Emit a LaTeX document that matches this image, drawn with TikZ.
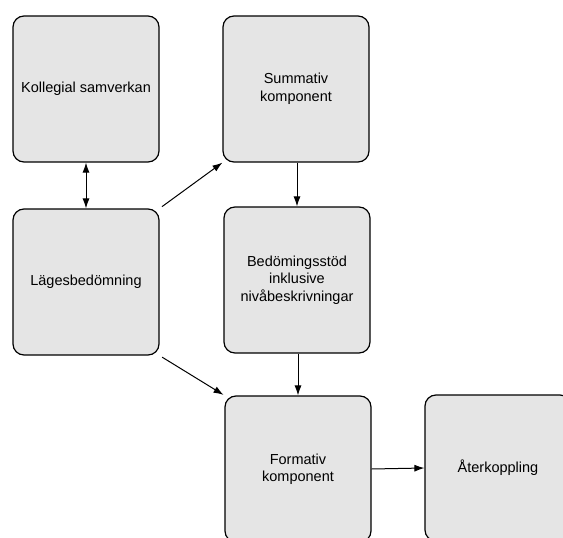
\documentclass[tikz,border=0pt]{standalone}
\usepackage{fontspec}
\setmainfont{Liberation Sans}
\usetikzlibrary{arrows.meta,positioning}

\begin{document}
\begin{tikzpicture}[x=1pt, y=-1pt,
  ruta/.style={draw, rectangle, rounded corners=11pt, fill=black!10, line width=1.2pt,
    minimum width=146pt, minimum height=146pt, align=center,
    font=\fontsize{14.5}{17.5}\selectfont},
  pil/.style={-{Latex[length=10pt,width=7pt]}, line width=1pt}]
  \useasboundingbox (0,0) rectangle (563,538);
  \clip (0,0) rectangle (563,538);

  % Vänster kolumn
  \node[ruta] (kollegial) at (86,89) {Kollegial samverkan};
  \node[ruta] (lage) at (86,282) {Lägesbedömning};

  % Mittkolumn
  \node[ruta] (summativ) at (296,89) {Summativ\\komponent};
  \node[ruta] (stod) at (297,280) {Bedömingsstöd\\inklusive\\nivåbeskrivningar};
  \node[ruta] (formativ) at (298,469) {Formativ\\komponent};

  % Höger
  \node[ruta] (ater) at (498,468) {Återkoppling};

  % Pilar
  \draw[pil, {Latex[length=10pt,width=7pt]}-{Latex[length=10pt,width=7pt]}] (kollegial) -- (lage);
  \draw[pil, shorten <=3pt] (lage.north east) -- (summativ.south west);
  \draw[pil] (summativ.south -| stod.north) -- (stod.north);
  \draw[pil] (stod.south -| formativ.north) -- (formativ.north);
  \draw[pil, shorten <=3pt, shorten >=1pt] (lage.south east) -- (formativ.north west);
  \draw[pil] (formativ.east) -- (ater.west);
\end{tikzpicture}
\end{document}
